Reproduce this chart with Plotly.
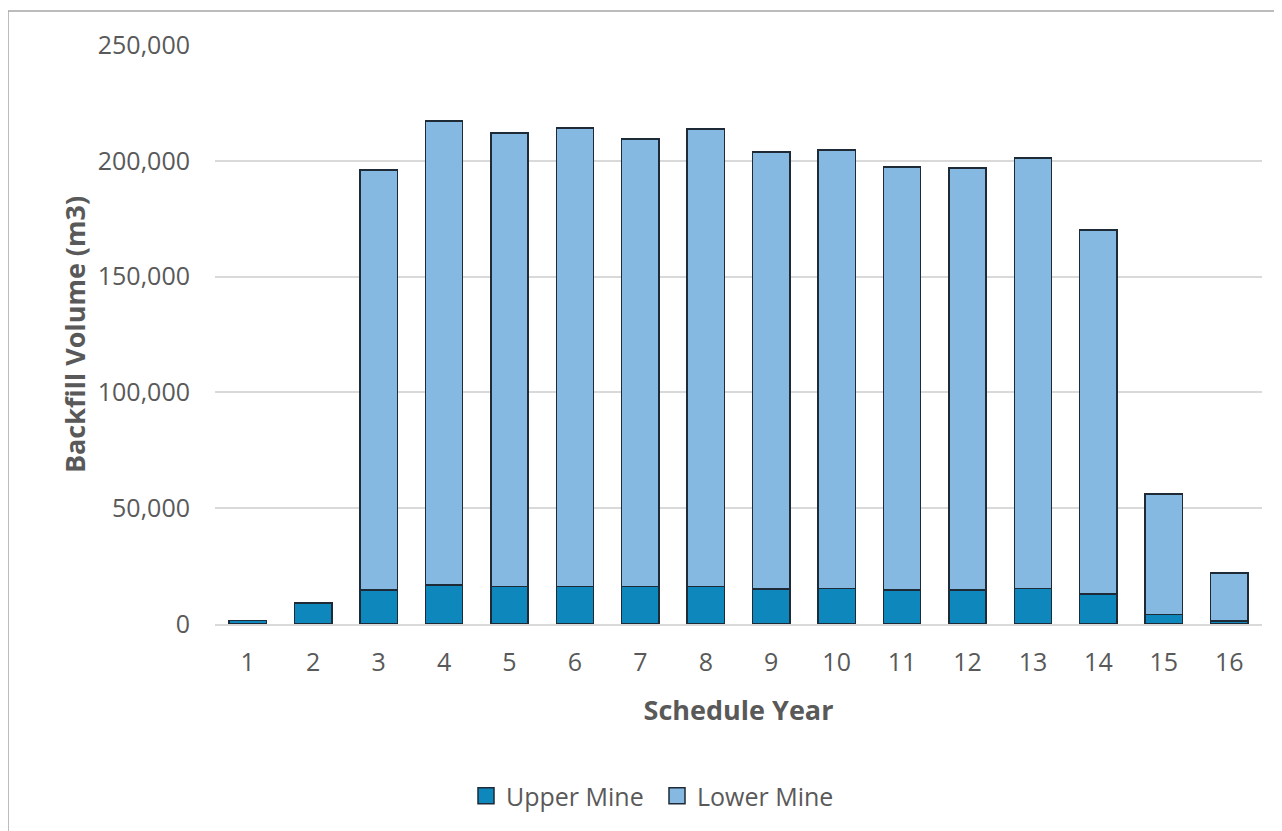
import plotly.graph_objects as go

years = [str(i) for i in range(1, 17)]
upper_mine = [1500, 9000, 14700, 16800, 16100, 16100, 16100, 16100, 15100, 15400, 14700, 14700, 15400, 13000, 4200, 1300]
total = [1500, 9000, 196000, 217200, 212000, 214200, 209400, 213700, 203800, 204700, 197300, 196900, 201200, 170100, 56100, 22000]
lower_mine = [t - u for t, u in zip(total, upper_mine)]

y_ticks = [0, 50000, 100000, 150000, 200000, 250000]

font_family = "Open Sans, Segoe UI, sans-serif"
gray = "#595959"
outline = "#1e2a36"
upper_color = "#0e87bd"
lower_color = "#85b9e2"

fig = go.Figure()
fig.add_trace(go.Bar(x=years, y=upper_mine, name="Upper Mine", showlegend=False,
                     marker=dict(color=upper_color, line=dict(color=outline, width=1.4))))
fig.add_trace(go.Bar(x=years, y=lower_mine, name="Lower Mine", showlegend=False,
                     marker=dict(color=lower_color, line=dict(color=outline, width=1.4))))
# legend entries
for nm, col in [("Upper Mine", upper_color), ("Lower Mine", lower_color)]:
    fig.add_trace(go.Scatter(x=[None], y=[None], mode="markers", name=nm,
                             marker=dict(symbol="square", size=17, color=col,
                                         line=dict(color=outline, width=1.5))))

W, H = 1274, 823
L, T, R = 207, 37, 20
PW = W - L - R
PH = 579
B = H - T - PH

fig.update_layout(
    barmode="stack",
    bargap=0.43,
    width=W, height=H,
    margin=dict(l=L, r=R, t=T, b=B),
    plot_bgcolor="white", paper_bgcolor="white",
    font=dict(family=font_family, color=gray, size=25),
    showlegend=True,
    legend=dict(orientation="h", x=(657 - 8 - L) / PW, xanchor="center",
                y=(616 - 788) / PH, yanchor="middle",
                font=dict(size=25, color=gray), traceorder="normal", itemwidth=30,
                entrywidth=146, entrywidthmode="pixels"),
    xaxis=dict(title=dict(text="<b>Schedule Year</b>", font=dict(size=27, color=gray), standoff=24),
               showline=True, linecolor="#d9d9d9", linewidth=1.5, ticks="",
               ticklabelstandoff=15, tickfont=dict(size=25, color=gray)),
    yaxis=dict(title=dict(text="<b>Backfill Volume (m3)</b>", font=dict(size=27, color=gray), standoff=4),
               range=[0, 250000], tickvals=y_ticks, tickformat=",d",
               showgrid=True, gridcolor="#d9d9d9", gridwidth=1.5, zeroline=False,
               ticklabelstandoff=24, tickfont=dict(size=25, color=gray)),
    shapes=[dict(type="rect", xref="paper", yref="paper",
                 x0=(0 - L) / PW, x1=(W + 20 - L) / PW,
                 y0=(T + PH - H - 20) / PH, y1=(T + PH - 3) / PH,
                 line=dict(color="#a6a6a6", width=1.5), fillcolor="rgba(0,0,0,0)", layer="below")],
)

fig.write_html("out.html")
